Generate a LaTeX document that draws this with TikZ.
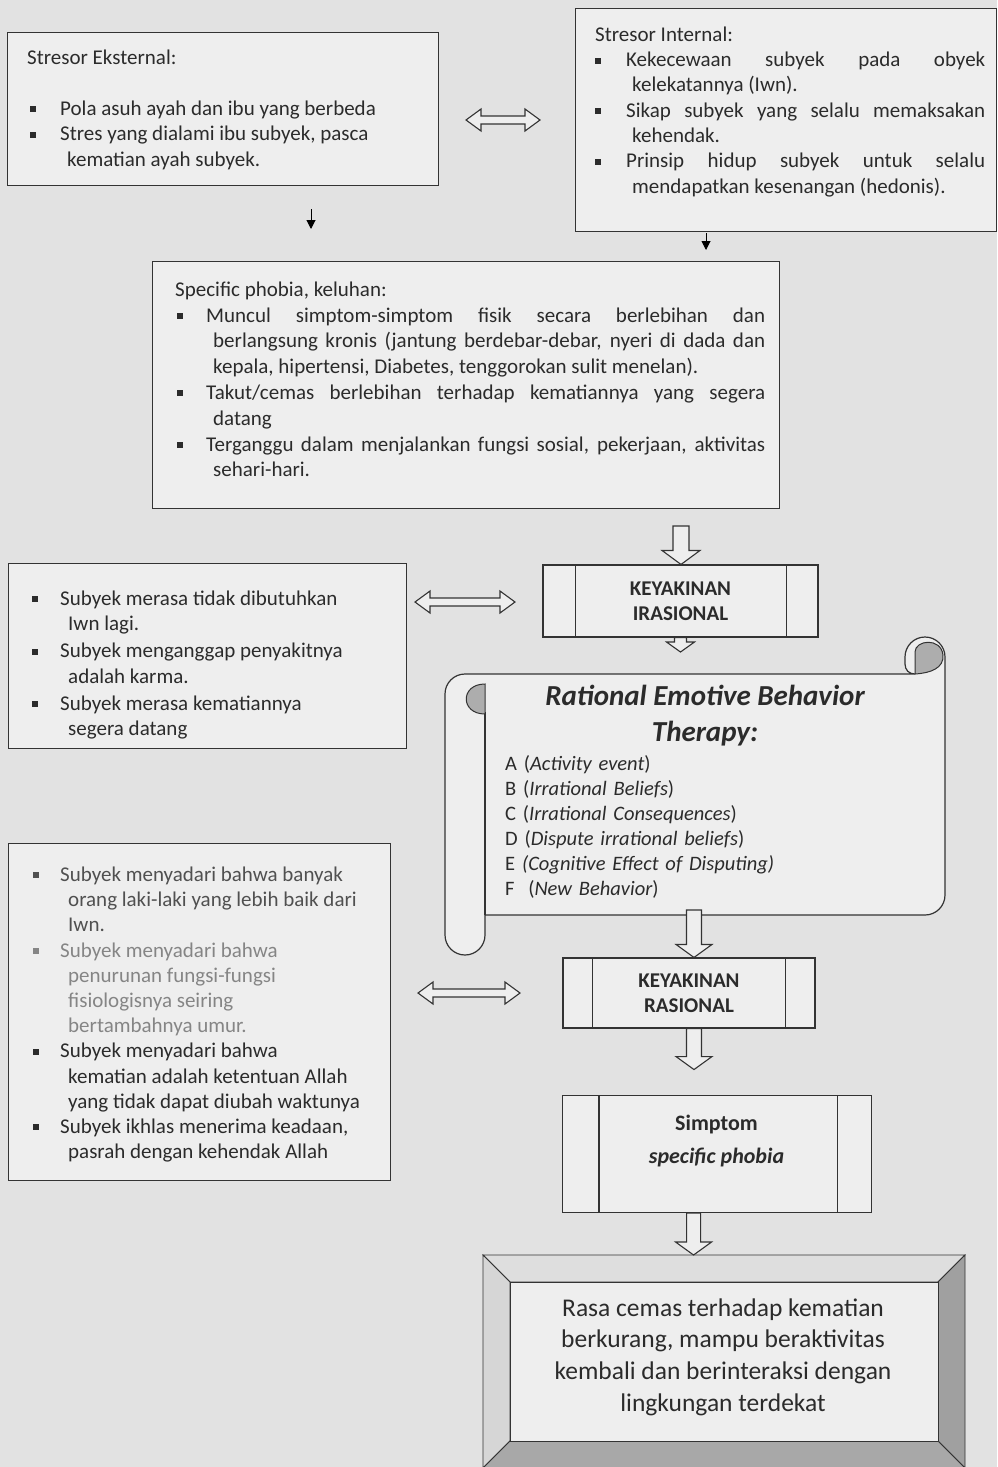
\documentclass[tikz,border=0pt]{standalone}
\usepackage{fontspec}
\setmainfont{Carlito}
\usetikzlibrary{calc,arrows.meta}
\definecolor{bg}{HTML}{E2E2E2}
\definecolor{boxfill}{HTML}{EEEEEE}
\definecolor{ink}{HTML}{2B2B2B}
\definecolor{lineclr}{HTML}{333333}
\definecolor{shadeclr}{HTML}{ADADAD}
\definecolor{fadeA}{HTML}{505050}
\definecolor{fadeB}{HTML}{858585}
\definecolor{bevtop}{HTML}{DEDEDE}
\definecolor{bevleft}{HTML}{D6D6D6}
\definecolor{bevright}{HTML}{A0A0A0}
\definecolor{bevbot}{HTML}{A8A8A8}
\newlength\bulpos \newlength\txtpos \newlength\contpos
\newcommand\bitem[1]{\par\noindent\hangindent=\contpos\hangafter=1\makebox[\txtpos][l]{\hspace*{\bulpos}\rule[3pt]{6pt}{6pt}}#1}
\newcommand\fstrut{\rule{0pt}{16pt}}
\newcommand\boxsetup{\parindent=0pt\parskip=0pt\tolerance=10000\hbadness=10000\hyphenpenalty=10000\exhyphenpenalty=10000\relax}
\newcommand\hdarrow[5]{\path[harrow] let \p1=(#1), \p2=(#2) in (\x1-#3,\y1) -- (\x1-#3,\y2+#5) -- (\x1-#4,\y2+#5) -- (\x1,\y2) -- (\x1+#4,\y2+#5) -- (\x1+#3,\y2+#5) -- (\x1+#3,\y1) -- cycle;}
\newcommand\hharrow[2]{\path[harrow] let \p1=(#1), \p2=(#2) in (\x1,\y1) -- (\x1+15pt,\y1+11pt) -- (\x1+15pt,\y1+4pt) -- (\x2-15pt,\y1+4pt) -- (\x2-15pt,\y1+11pt) -- (\x2,\y1) -- (\x2-15pt,\y1-11pt) -- (\x2-15pt,\y1-4pt) -- (\x1+15pt,\y1-4pt) -- (\x1+15pt,\y1-11pt) -- cycle;}
\begin{document}
\begin{tikzpicture}[x=1pt,y=1pt,
  line/.style={draw=lineclr, line width=1.1pt},
  pbox/.style={draw=lineclr, line width=1.3pt, fill=boxfill, rectangle, inner sep=0pt, anchor=north west},
  cbox/.style={draw=lineclr, line width=1.1pt, fill=boxfill, rectangle, inner sep=0pt, text=ink, align=center, font=\fontsize{21}{25}\selectfont\bfseries},
  txt/.style={inner sep=0pt, anchor=north west, text=ink, align=justify, execute at begin node=\boxsetup},
  harrow/.style={draw=lineclr, line width=1.1pt, fill=boxfill, line join=miter},
  sarrow/.style={draw=black, line width=1pt, -{Triangle[length=9pt,width=9pt]}},
  bev/.style={draw=lineclr, line width=0.8pt},
]
\useasboundingbox (0,0) rectangle (997,-1467);
\fill[bg] (0,0) rectangle (997,-1467);

% ---------- Box 1: Stresor Eksternal
\node[pbox, minimum width=431pt, minimum height=153pt] (b1) at (7,-32) {};
\node[txt, text width=400pt, font=\fontsize{21}{25.5}\selectfont] (t1) at (27,-48)
 {\setlength\bulpos{3pt}\setlength\txtpos{33pt}\setlength\contpos{40pt}%
  \fstrut Stresor Eksternal:\par\mbox{}%
  \bitem{Pola asuh ayah dan ibu yang berbeda}%
  \bitem{Stres yang dialami ibu subyek, pasca\newline kematian ayah subyek.}\par};

% ---------- Box 2: Stresor Internal
\node[pbox, minimum width=421pt, minimum height=223pt] (b2) at (575,-8) {};
\node[txt, text width=390pt, font=\fontsize{21}{25.33}\selectfont] (t2) at (595,-25)
 {\setlength\bulpos{0pt}\setlength\txtpos{31pt}\setlength\contpos{37pt}%
  \fstrut Stresor Internal:%
  \bitem{Kekecewaan subyek pada obyek\linebreak kelekatannya (Iwn).}%
  \bitem{Sikap subyek yang selalu memaksakan\linebreak kehendak.}%
  \bitem{Prinsip hidup subyek untuk selalu\linebreak mendapatkan kesenangan (hedonis).}\par};

% small solid arrows
\coordinate (a1s) at (311,-209); \coordinate (a1e) at (311,-229);
\draw[sarrow] (a1s) -- (a1e);
\coordinate (a2s) at (706,-233); \coordinate (a2e) at (706,-250);
\draw[sarrow] (a2s) -- (a2e);

% double arrow 1
\coordinate (d1l) at (466,-120); \coordinate (d1r) at (540,-120);
\hharrow{d1l}{d1r}

% ---------- Box 3: Specific phobia
\node[pbox, minimum width=627pt, minimum height=247pt] (b3) at (152,-261) {};
\node[txt, text width=590pt, font=\fontsize{21}{25.8}\selectfont] (t3) at (175,-280)
 {\setlength\bulpos{2pt}\setlength\txtpos{31pt}\setlength\contpos{38pt}%
  \fstrut Specific phobia, keluhan:%
  \bitem{Muncul simptom-simptom fisik secara berlebihan dan\linebreak berlangsung kronis (jantung berdebar-debar, nyeri di dada dan\linebreak kepala, hipertensi, Diabetes, tenggorokan sulit menelan).}%
  \bitem{Takut/cemas berlebihan terhadap kematiannya yang segera\linebreak datang}%
  \bitem{Terganggu dalam menjalankan fungsi sosial, pekerjaan, aktivitas\linebreak sehari-hari.}\par};

% ---------- KEYAKINAN IRASIONAL
\node[cbox, minimum width=275pt, minimum height=72pt] (ki) at (680.5,-601) {KEYAKINAN\\IRASIONAL};
\draw[line] ($(ki.north west)+(33,0)$) -- ($(ki.south west)+(33,0)$);
\draw[line] ($(ki.north east)+(-32,0)$) -- ($(ki.south east)+(-32,0)$);
\coordinate (h1s) at (681,-526);
\hdarrow{h1s}{ki.north}{8pt}{19pt}{14pt}

% ---------- Box 4
\node[pbox, minimum width=398pt, minimum height=185pt] (b4) at (8,-563) {};
\node[txt, text width=370pt, font=\fontsize{21}{25.5}\selectfont] (t4) at (32,-578)
 {\setlength\bulpos{0pt}\setlength\txtpos{28pt}\setlength\contpos{36pt}\parskip=1.5pt
  \bitem{\fstrut Subyek merasa tidak dibutuhkan\newline Iwn lagi.}%
  \bitem{Subyek menganggap penyakitnya\newline adalah karma.}%
  \bitem{Subyek merasa kematiannya\newline segera datang}\par};
\coordinate (d2l) at (415,-602); \coordinate (d2r) at (515,-602);
\hharrow{d2l}{d2r}

% ---------- Scroll
\filldraw[draw=lineclr, line width=1.2pt, fill=boxfill, line join=round]
  (485,-915) -- (925,-915) arc[start angle=-90, end angle=0, radius=20]
  -- (945,-657) arc[start angle=0, end angle=180, radius=20]
  -- (905,-664) .. controls (905,-670) and (909,-674) .. (915,-674)
  -- (465,-674) arc[start angle=90, end angle=180, radius=20]
  -- (445,-935) arc[start angle=180, end angle=360, radius=20] -- cycle;
\draw[line] (485,-915) -- (485,-712);
\filldraw[draw=lineclr, line width=1pt, fill=shadeclr]
  (485,-684) .. controls (460,-684) and (460,-714) .. (485,-714) -- cycle;
\filldraw[draw=lineclr, line width=1pt, fill=shadeclr]
  (915,-674) -- (915,-652) .. controls (915,-640) and (941,-637) .. (943,-655)
  .. controls (944,-668) and (931,-673) .. (915,-674) -- cycle;
\node[text=ink, font=\fontsize{29}{36}\selectfont\bfseries\itshape, align=center] (rebt) at (705,-716) {Rational Emotive Behavior\\Therapy:};
\node[txt, text width=330pt, align=left, font=\fontsize{20.5}{25}\selectfont] (abc) at (505,-754)
 {\fstrut A (\textit{Activity event})\par B (\textit{Irrational Beliefs})\par C (\textit{Irrational Consequences})\par D (\textit{Dispute irrational beliefs})\par E \textit{(Cognitive Effect of Disputing)}\par F\ \ (\textit{New Behavior})\par};
\coordinate (ks) at (680,-652);
\hdarrow{ki.south}{ks}{6pt}{14pt}{10pt}

% ---------- KEYAKINAN RASIONAL
\node[cbox, minimum width=252pt, minimum height=70pt] (kr) at (689,-993) {KEYAKINAN\\RASIONAL};
\draw[line] ($(kr.north west)+(30,0)$) -- ($(kr.south west)+(30,0)$);
\draw[line] ($(kr.north east)+(-30,0)$) -- ($(kr.south east)+(-30,0)$);
\coordinate (h3s) at (694,-910);
\hdarrow{h3s}{kr.north}{7.5pt}{18pt}{13pt}

% ---------- Box 5
\node[pbox, minimum width=382pt, minimum height=337pt] (b5) at (8,-843) {};
\node[txt, text width=360pt, font=\fontsize{21}{25.2}\selectfont] (t5) at (33,-856)
 {\setlength\bulpos{0pt}\setlength\txtpos{27pt}\setlength\contpos{35pt}%
  {\color{fadeA}\bitem{\fstrut Subyek menyadari bahwa banyak\newline orang laki-laki yang lebih baik dari\newline Iwn.}\par}%
  {\color{fadeB}\bitem{Subyek menyadari bahwa\newline penurunan fungsi-fungsi\newline fisiologisnya seiring\newline bertambahnya umur.}\par}%
  \bitem{Subyek menyadari bahwa\newline kematian adalah ketentuan Allah\newline yang tidak dapat diubah waktunya}%
  \bitem{Subyek ikhlas menerima keadaan,\newline pasrah dengan kehendak Allah}\par};
\coordinate (d3l) at (418,-993); \coordinate (d3r) at (520,-993);
\hharrow{d3l}{d3r}

% ---------- Simptom
\node[pbox, line width=1.1pt, minimum width=309pt, minimum height=117pt] (sim) at (562,-1095) {};
\draw[line] ($(sim.north west)+(37,0)$) -- ($(sim.south west)+(37,0)$);
\draw[line] ($(sim.north east)+(-35,0)$) -- ($(sim.south east)+(-35,0)$);
\node[text=ink, align=center, font=\fontsize{22}{33}\selectfont\bfseries] (simt) at (716.5,-1141) {Simptom\\\textit{specific phobia}};
\hdarrow{$(kr.south)+(5,0)$}{$(kr.south)+(5,-41)$}{7.5pt}{18pt}{13pt}

% ---------- Final beveled box
\node[draw=lineclr, line width=1pt, fill=boxfill, minimum width=481pt, minimum height=212pt, anchor=north west, inner sep=0pt] (fin) at (483,-1255) {};
\coordinate (fnw) at ($(fin.north west)+(27,-27)$);
\coordinate (fne) at ($(fin.north east)+(-27,-27)$);
\coordinate (fsw) at ($(fin.south west)+(27,27)$);
\coordinate (fse) at ($(fin.south east)+(-27,27)$);
\filldraw[bev, fill=bevtop] (fin.north west) -- (fin.north east) -- (fne) -- (fnw) -- cycle;
\filldraw[bev, fill=bevleft] (fin.north west) -- (fnw) -- (fsw) -- (fin.south west) -- cycle;
\filldraw[bev, fill=bevright] (fin.north east) -- (fin.south east) -- (fse) -- (fne) -- cycle;
\filldraw[bev, fill=bevbot] (fin.south west) -- (fsw) -- (fse) -- (fin.south east) -- cycle;
\filldraw[bev, fill=boxfill] (fnw) rectangle (fse);
\node[text=ink, align=center, font=\fontsize{25.5}{31.7}\selectfont] (fint) at (723,-1357) {Rasa cemas terhadap kematian\\berkurang, mampu beraktivitas\\kembali dan berinteraksi dengan\\lingkungan terdekat};
\hdarrow{$(sim.south)+(-23.5,0)$}{fin.north}{7pt}{18pt}{13pt}
\end{tikzpicture}
\end{document}
